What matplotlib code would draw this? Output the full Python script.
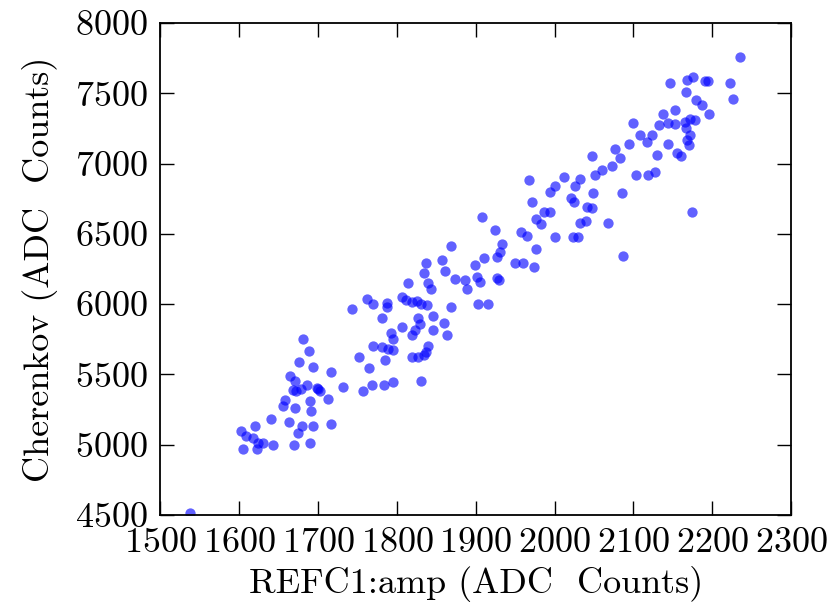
import numpy as np
import matplotlib
matplotlib.use("Agg")
import matplotlib.pyplot as plt

# REFC1 amplitude vs Cherenkov amplitude (ADC counts)
refc1_amp = [
    1537, 1681, 1688, 1676, 1693, 1716, 1664, 1671, 1686, 1668, 1672, 1678,
    1698, 1702, 1700, 1731, 1712, 1658, 1690, 1655, 1671, 1691, 1640, 1663,
    1680, 1694, 1716, 1620, 1602, 1609, 1618, 1624, 1630, 1643, 1675, 1669,
    1690, 1605, 1622,
    1837, 1857, 1834, 1861, 1874, 1886, 1889, 1814, 1840, 1843, 1806, 1812,
    1819, 1825, 1831, 1838, 1762, 1770, 1788, 1788, 1743, 1781, 1827, 1846,
    1869, 1860, 1806, 1829, 1823, 1846, 1863, 1793, 1795, 1819, 1770, 1781,
    1789, 1795, 1840, 1837, 1785, 1819, 1827, 1834, 1752, 1764, 1757, 1769,
    1783, 1795, 1830, 1869,
    1968, 2012, 2032, 2026, 2001, 1994, 2021, 2025, 2041, 1971, 1986, 1994,
    1977, 1983, 2032, 2040, 1908, 1924, 1958, 1965, 2001, 2024, 2030, 1933,
    1931, 1977, 1910, 1927, 1899, 1950, 1960, 1974, 1901, 1905, 1927, 1930,
    1903, 1916,
    2167, 2179, 2187, 2196, 2153, 2138, 2100, 2132, 2144, 2153, 2166, 2172,
    2178, 2167, 2172, 2168, 2170, 2108, 2117, 2123, 2144, 2155, 2161, 2130,
    2095, 2077, 2083, 2048, 2073, 2060, 2051, 2103, 2119, 2127, 2049, 2085,
    2047, 2068, 2174, 2087,
    2235, 2223, 2226, 2176, 2191, 2195, 2147, 2168,
]
cherenkov = [
    4515, 5753, 5670, 5588, 5556, 5521, 5492, 5450, 5426, 5391, 5380, 5400,
    5403, 5379, 5395, 5410, 5327, 5320, 5313, 5277, 5260, 5243, 5182, 5165,
    5130, 5130, 5147, 5130, 5100, 5059, 5047, 5012, 5016, 5000, 5083, 4995,
    5016, 4969, 4969,
    6296, 6315, 6225, 6239, 6178, 6173, 6107, 6149, 6149, 6107, 6054, 6031,
    6012, 6019, 6002, 5995, 6035, 6002, 6007, 5983, 5964, 5900, 5900, 5917,
    5983, 5869, 5836, 5860, 5817, 5817, 5782, 5794, 5751, 5782, 5703, 5698,
    5680, 5675, 5703, 5663, 5604, 5623, 5623, 5640, 5623, 5545, 5379, 5426,
    5426, 5443, 5455, 6410,
    6884, 6907, 6889, 6841, 6841, 6801, 6754, 6723, 6690, 6725, 6658, 6658,
    6604, 6571, 6576, 6594, 6622, 6528, 6516, 6486, 6476, 6476, 6476, 6429,
    6374, 6393, 6327, 6334, 6280, 6296, 6296, 6263, 6196, 6161, 6185, 6170,
    6002, 6002,
    7512, 7450, 7417, 7352, 7381, 7353, 7287, 7275, 7287, 7282, 7298, 7315,
    7310, 7250, 7204, 7168, 7133, 7204, 7156, 7204, 7140, 7074, 7050, 7062,
    7140, 7102, 7038, 7054, 6983, 6955, 6919, 6919, 6919, 6943, 6789, 6789,
    6683, 6576, 6656, 6340,
    7760, 7576, 7458, 7618, 7590, 7590, 7576, 7595,
]

plt.rcParams["font.family"] = "cmr10"
plt.rcParams["axes.formatter.use_mathtext"] = True
plt.rcParams["font.size"] = 26

fig = plt.figure(figsize=(8.27, 6.11), dpi=100)
ax = fig.add_axes([0.194, 0.157, 0.7625, 0.8055])

ax.scatter(refc1_amp, cherenkov, s=55, c="b", alpha=0.62, linewidths=0)

ax.set_xlim(1500, 2300)
ax.set_ylim(4500, 8000)
ax.set_xticks(np.arange(1500, 2301, 100))
ax.set_yticks(np.arange(4500, 8001, 500))
ax.tick_params(direction="in", top=True, right=True, length=10, width=1)
ax.tick_params(axis="x", pad=9)
ax.tick_params(axis="y", pad=9)
for sp in ax.spines.values():
    sp.set_linewidth(1.3)

ax.set_xlabel("REFC1:amp (ADC  Counts)", labelpad=5)
ax.set_ylabel("Cherenkov (ADC  Counts)", labelpad=12)

fig.savefig("out.png", dpi=100)
